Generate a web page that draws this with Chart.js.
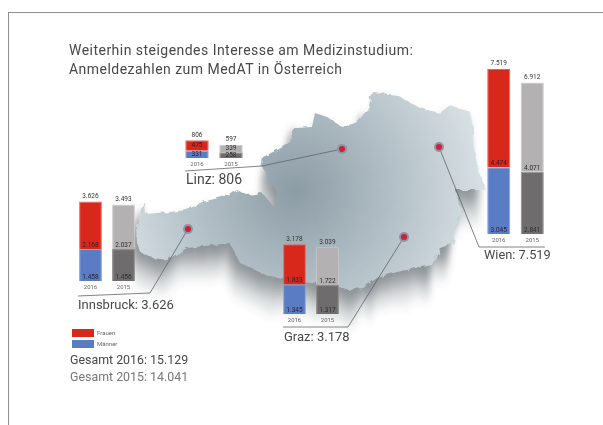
<!DOCTYPE html>
<html lang="de">
<head>
    <meta charset="UTF-8">
    <title>Anmeldezahlen zum MedAT in Österreich</title>
    <script src="https://cdn.jsdelivr.net/npm/chart.js"></script>
    <style>
        html, body { margin: 0; background: #fff; }
        body { width: 603px; height: 425px; position: relative; overflow: hidden; font-family: 'Roboto', sans-serif; color: #484848; }
        #page { position: absolute; inset: 0; filter: blur(0.45px); }
        canvas { position: absolute; }
        svg { position: absolute; left: 0; top: 0; }
        .txt { position: absolute; white-space: nowrap; line-height: 1; }
        .title { left: 69px; font-size: 14px; letter-spacing: 0.47px; }
        .frame-top { position: absolute; left: 8px; top: 12px; width: 595px; height: 1px; background: #8f8f8f; }
        .frame-left { position: absolute; left: 8px; top: 12px; width: 1px; height: 413px; background: #8f8f8f; }
        .swatch { position: absolute; left: 72px; width: 22px; height: 8px; }
    </style>
</head>
<body>
<div id="page">
    <div class="frame-top"></div>
    <div class="frame-left"></div>

    <!-- Map of Austria and leader lines -->
    <svg width="603" height="425" viewBox="0 0 603 425">
        <defs>
            <radialGradient id="mapFill" gradientUnits="userSpaceOnUse" cx="295" cy="190" r="195">
                <stop offset="0" stop-color="#8c9ca5"/>
                <stop offset="0.5" stop-color="#b2bfc6"/>
                <stop offset="1" stop-color="#dae2e6"/>
            </radialGradient>
            <filter id="rough" x="-5%" y="-5%" width="110%" height="110%">
                <feTurbulence type="fractalNoise" baseFrequency="0.14" numOctaves="2" seed="4" result="n"/>
                <feDisplacementMap in="SourceGraphic" in2="n" scale="5"/>
            </filter>
            <filter id="soft" x="-5%" y="-5%" width="110%" height="130%">
                <feTurbulence type="fractalNoise" baseFrequency="0.09 0.01" numOctaves="2" seed="7" result="n"/>
                <feDisplacementMap in="SourceGraphic" in2="n" scale="14" result="d"/>
                <feGaussianBlur in="d" stdDeviation="3"/>
            </filter>
            <path id="austria" d="M136 226 L145 202 L146 214 L170 212 L187 210 L202 202 L230 195 L237 190 L247 195 L262 193 L270 202 L275 208 L277 192 L270 182 L262 165 L263 157 L287 145 L295 128 L312 127 L315 113 L327 117 L343 127 L358 122 L368 108 L373 92 L397 95 L420 108 L440 113 L450 105 L470 112 L473 128 L473 145 L478 170 L486 190 L455 190 L462 212 L453 232 L455 243 L440 248 L432 265 L417 268 L397 272 L377 278 L363 288 L347 290 L330 285 L310 282 L270 277 L240 263 L230 243 L213 245 L187 248 L167 260 L153 258 L140 252 L137 242 Z"/>
        </defs>
        <g filter="url(#soft)" fill="#4c565c">
            <use href="#austria" transform="translate(-1,4)" opacity="0.2"/>
            <use href="#austria" transform="translate(-2,9)" opacity="0.18"/>
            <use href="#austria" transform="translate(-2,14)" opacity="0.15"/>
            <use href="#austria" transform="translate(-3,19)" opacity="0.13"/>
            <use href="#austria" transform="translate(-3,24)" opacity="0.1"/>
            <use href="#austria" transform="translate(-4,29)" opacity="0.08"/>
            <use href="#austria" transform="translate(-5,34)" opacity="0.06"/>
            <use href="#austria" transform="translate(-5,39)" opacity="0.04"/>
        </g>
        <use href="#austria" fill="url(#mapFill)" filter="url(#rough)"/>

        <g fill="none" stroke="#5e6468" stroke-width="0.8">
            <polyline points="342,149 262,166 185,171"/>
            <polyline points="188,229 150,293 78,296"/>
            <polyline points="404,237 348,327 283,327"/>
            <polyline points="439,147 479,247 545,247"/>
        </g>
        <g fill="#8c979d">
            <circle cx="342" cy="149" r="5"/><circle cx="188" cy="229" r="5"/>
            <circle cx="404" cy="237" r="5"/><circle cx="439" cy="147" r="5"/>
        </g>
        <g fill="#d01f3c">
            <circle cx="342" cy="149" r="3"/><circle cx="188" cy="229" r="3"/>
            <circle cx="404" cy="237" r="3"/><circle cx="439" cy="147" r="3"/>
        </g>
    </svg>

    <div class="txt title" style="top:43px;">Weiterhin steigendes Interesse am Medizinstudium:</div>
    <div class="txt title" style="top:62px;">Anmeldezahlen zum MedAT in Österreich</div>

    <div class="txt" style="left:186px;top:172px;font-size:14px;">Linz: 806</div>
    <div class="txt" style="left:78px;top:298px;font-size:13px;">Innsbruck: 3.626</div>
    <div class="txt" style="left:284px;top:330px;font-size:13px;">Graz: 3.178</div>
    <div class="txt" style="left:484px;top:249px;font-size:12.8px;">Wien: 7.519</div>

    <div class="swatch" style="top:329px;background:#d8281c;"></div>
    <div class="swatch" style="top:340px;background:#5a7cc4;"></div>
    <div class="txt" style="left:97px;top:330px;font-size:6px;color:#666;">Frauen</div>
    <div class="txt" style="left:97px;top:341px;font-size:6px;color:#666;">Männer</div>
    <div class="txt" style="left:70px;top:354px;font-size:12.4px;">Gesamt 2016: 15.129</div>
    <div class="txt" style="left:70px;top:371px;font-size:12.4px;color:#777;">Gesamt 2015: 14.041</div>

    <canvas id="linzChart" style="left:180px;top:126px;"></canvas>
    <canvas id="innsbruckChart" style="left:74px;top:190px;"></canvas>
    <canvas id="grazChart" style="left:278px;top:233px;"></canvas>
    <canvas id="wienChart" style="left:482px;top:56px;"></canvas>
</div>

    <script>
        const years = ['2016', '2015'];

        const linzFrauen = [475, 339];
        const linzMaenner = [331, 258];
        const innsbruckFrauen = [2168, 2037];
        const innsbruckMaenner = [1458, 1456];
        const grazFrauen = [1833, 1722];
        const grazMaenner = [1345, 1317];
        const wienFrauen = [4474, 4071];
        const wienMaenner = [3045, 2841];

        // all four charts share the same value scale
        const unitsPerPixel = 45.6;
        const axisHeight = 14;

        const fmt = v => String(v).replace(/\B(?=(\d{3})+$)/g, '.');

        // value inside each segment, total above each bar
        const barLabels = {
            id: 'barLabels',
            afterDatasetsDraw(chart) {
                const ctx = chart.ctx;
                const sets = chart.data.datasets;
                ctx.save();
                ctx.textAlign = 'center';
                ctx.font = '6.5px Roboto, sans-serif';
                years.forEach((y, i) => {
                    sets.forEach((ds, d) => {
                        const bar = chart.getDatasetMeta(d).data[i];
                        const h = Math.abs(bar.base - bar.y);
                        ctx.fillStyle = i === 0 ? '#2a2230' : '#2e2e2e';
                        if (h < 14) {
                            ctx.textBaseline = 'middle';
                            ctx.fillText(fmt(ds.data[i]), bar.x, (bar.base + bar.y) / 2);
                        } else {
                            ctx.textBaseline = 'bottom';
                            ctx.fillText(fmt(ds.data[i]), bar.x, bar.base - 0.5);
                        }
                    });
                    const top = chart.getDatasetMeta(sets.length - 1).data[i];
                    ctx.fillStyle = '#333';
                    ctx.textBaseline = 'bottom';
                    ctx.fillText(fmt(sets[0].data[i] + sets[1].data[i]), top.x, top.y - 2);
                });
                ctx.restore();
            }
        };

        function makeChart(id, maenner, frauen, width, height) {
            const canvas = document.getElementById(id);
            canvas.style.width = width + 'px';
            canvas.style.height = height + 'px';
            canvas.width = width;
            canvas.height = height;
            return new Chart(canvas.getContext('2d'), {
                type: 'bar',
                data: {
                    labels: years,
                    datasets: [{
                        label: 'Männer',
                        data: maenner,
                        backgroundColor: ['#5a7cc4', '#6e6c6c'],
                        borderColor: ['#8ba4d8', '#8e8c8c'],
                        borderWidth: 1
                    }, {
                        label: 'Frauen',
                        data: frauen,
                        backgroundColor: ['#d8281c', '#b3b1b1'],
                        borderColor: ['#e2685f', '#cbc9c9'],
                        borderWidth: 1
                    }]
                },
                options: {
                    responsive: false,
                    animation: false,
                    layout: { padding: 0 },
                    plugins: { legend: { display: false }, tooltip: { enabled: false } },
                    datasets: { bar: { barPercentage: 1, categoryPercentage: 0.69 } },
                    scales: {
                        x: {
                            stacked: true,
                            grid: { display: false, drawTicks: false },
                            border: { display: false },
                            ticks: { color: '#666', font: { size: 6, family: 'Roboto' }, padding: 3, maxRotation: 0, autoSkip: false },
                            afterFit: s => { s.height = axisHeight; }
                        },
                        y: {
                            stacked: true,
                            display: false,
                            min: 0,
                            max: (height - axisHeight) * unitsPerPixel
                        }
                    }
                },
                plugins: [barLabels]
            });
        }

        // canvas bottom = bar baseline + axisHeight
        makeChart('linzChart', linzMaenner, linzFrauen, 68, 46);
        makeChart('innsbruckChart', innsbruckMaenner, innsbruckFrauen, 66, 105);
        makeChart('grazChart', grazMaenner, grazFrauen, 66, 95);
        makeChart('wienChart', wienMaenner, wienFrauen, 67, 192);
    </script>
</body>
</html>
